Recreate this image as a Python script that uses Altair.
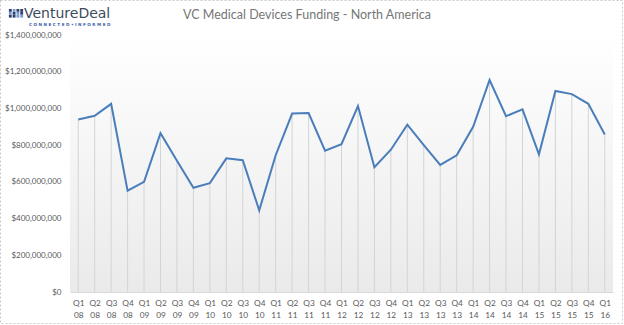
import altair as alt
import pandas as pd

quarters = [
    "Q1 08", "Q2 08", "Q3 08", "Q4 08",
    "Q1 09", "Q2 09", "Q3 09", "Q4 09",
    "Q1 10", "Q2 10", "Q3 10", "Q4 10",
    "Q1 11", "Q2 11", "Q3 11", "Q4 11",
    "Q1 12", "Q2 12", "Q3 12", "Q4 12",
    "Q1 13", "Q2 13", "Q3 13", "Q4 13",
    "Q1 14", "Q2 14", "Q3 14", "Q4 14",
    "Q1 15", "Q2 15", "Q3 15", "Q4 15",
    "Q1 16",
]
funding = [
    940e6, 960e6, 1025e6, 552e6,
    600e6, 865e6, 715e6, 568e6,
    593e6, 728e6, 718e6, 445e6,
    745e6, 972e6, 975e6, 770e6,
    805e6, 1013e6, 680e6, 775e6,
    912e6, 800e6, 692e6, 745e6,
    900e6, 1155e6, 958e6, 995e6,
    750e6, 1095e6, 1078e6, 1025e6,
    858e6,
]
y_ticks = [0, 200e6, 400e6, 600e6, 800e6, 1000e6, 1200e6, 1400e6]
title_text = "VC Medical Devices Funding - North America"
logo_text = "VentureDeal"
tagline_text = "C O N N E C T E D  \u2022  I N F O R M E D"

df = pd.DataFrame({"quarter": quarters, "funding": funding})
one = pd.DataFrame({"a": [0]})

W, H = 543, 257
FONT = "Lato"
LABEL = "#595959"

x_enc = alt.X(
    "quarter:O", sort=None,
    scale=alt.Scale(type="point", padding=0.5),
    axis=alt.Axis(
        title=None, labelAngle=0, labelExpr="split(datum.label, ' ')",
        labelColor=LABEL, labelFont=FONT, labelFontSize=8.3, labelLineHeight=12,
        domainColor="#d9d9d9", ticks=False, labelPadding=6,
    ),
)
y_enc = alt.Y(
    "funding:Q",
    scale=alt.Scale(domain=[0, 1.4e9], nice=False),
    axis=alt.Axis(
        title=None, values=y_ticks, format="$,.0f", grid=False, domain=False,
        ticks=False, labelColor=LABEL, labelFont=FONT, labelFontSize=8,
        labelPadding=9,
    ),
)

bg = alt.Chart(one).mark_rect(
    color=alt.LinearGradient(
        gradient="linear",
        stops=[alt.GradientStop(color="#ffffff", offset=0),
               alt.GradientStop(color="#eaeaea", offset=1)],
        x1=0, x2=0, y1=0, y2=1,
    )
).encode(x=alt.value(0), x2=alt.value(W), y=alt.value(0), y2=alt.value(H))

rules = alt.Chart(df).mark_rule(color="#d4d4d4", strokeWidth=1).encode(
    x=x_enc, y=y_enc, y2=alt.datum(0)
)
line = alt.Chart(df).mark_line(color="#4a7ebb", strokeWidth=2).encode(x=x_enc, y=y_enc)

main = alt.layer(bg, rules, line)

title = alt.Chart(one).mark_text(
    text=title_text, font=FONT, fontSize=12.5, color="#767676", align="center", baseline="middle"
).encode(x=alt.value(237), y=alt.value(-20))

logo = alt.Chart(one).mark_text(
    text=logo_text, font="DejaVu Sans", fontSize=14, color="#3d4a5c", align="left",
    baseline="alphabetic"
).encode(x=alt.value(-46), y=alt.value(-16.7))

tagline = alt.Chart(one).mark_text(
    text=tagline_text, font="DejaVu Sans", fontSize=4.2, color="#3d62a8", align="left",
    baseline="middle", fontWeight="bold"
).encode(x=alt.value(-41), y=alt.value(-10.5))

# logo icon: 4 x 3 grid of small squares
icon_colors = ["#2c3f6e", "#7b9ad0", "#2c3f6e", "#2c3f6e",
               "#7b9ad0", "#2c3f6e", "#7b9ad0", "#2c3f6e",
               "#2c3f6e", "#2c3f6e", "#7b9ad0", "#7b9ad0"]
icon_rows = []
for i, c in enumerate(icon_colors):
    col, row = i % 4, i // 4
    icon_rows.append({"px": -59.7 + col * 3.8, "py": -24.6 + row * 2.9, "c": c})
icon = alt.Chart(pd.DataFrame(icon_rows)).mark_square(size=8, opacity=1).encode(
    x=alt.X("px:Q", scale=None), y=alt.Y("py:Q", scale=None), color=alt.Color("c:N", scale=None)
)

border = alt.Chart(one).mark_rect(
    fill=None, stroke="#c8c8c8", strokeWidth=1, strokeDash=[2, 2]
).encode(x=alt.value(-69.5), x2=alt.value(W + 9.5), y=alt.value(-34.5), y2=alt.value(H + 31.5))

chart = alt.layer(main, title, logo, tagline, icon, border).resolve_scale(
    x="independent", y="independent", color="independent"
).properties(
    width=W, height=H,
    autosize=alt.AutoSizeParams(type="none"),
    padding={"left": 70, "top": 35, "right": 11, "bottom": 33},
    background="white",
).configure_view(stroke=None)

chart.save("out.html", embed_options={"renderer": "svg", "actions": False})
